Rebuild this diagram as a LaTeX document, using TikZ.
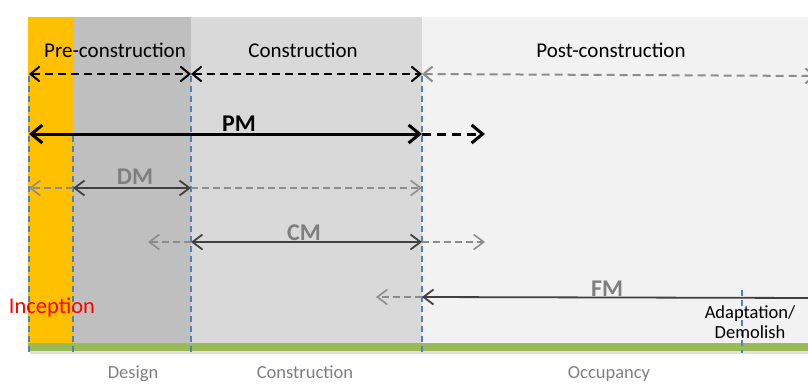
\documentclass[tikz,border=0pt]{standalone}
\usepackage{fontspec}
\setmainfont{Carlito}
\usetikzlibrary{arrows.meta}
\definecolor{inceptyellow}{HTML}{FFC000}
\definecolor{designgrey}{HTML}{BFBFBF}
\definecolor{buildgrey}{HTML}{D9D9D9}
\definecolor{usegrey}{HTML}{F2F2F2}
\definecolor{basegreen}{HTML}{9BBB59}
\definecolor{dividerblue}{HTML}{4F81BD}
\definecolor{labelgrey}{HTML}{7F7F7F}
\definecolor{arrowdark}{HTML}{404040}
\definecolor{arrowgrey}{HTML}{8C8C8C}
\begin{document}
\begin{tikzpicture}%
	[x=1pt, y=-1pt,
	phase/.style={font=\fontsize{21}{21}\selectfont, anchor=base},
	stage/.style={font=\fontsize{18.5}{18.5}\selectfont, text=labelgrey, anchor=base},
	role/.style={font=\bfseries\fontsize{24}{24}\selectfont, text=labelgrey, anchor=base},
	divider/.style={color=dividerblue, line width=1.4pt, dash pattern=on 6pt off 4pt},
	period/.style={black, line width=2pt, dash pattern=on 8pt off 5pt, {Straight Barb[length=9pt,width=15pt]}-{Straight Barb[length=9pt,width=15pt]}},
	later/.style={arrowgrey, line width=2pt, dash pattern=on 8pt off 5pt, {Straight Barb[length=9pt,width=15pt]}-{Straight Barb[length=9pt,width=15pt]}},
	lead/.style={black, line width=3pt, {Straight Barb[length=11pt,width=18pt]}-{Straight Barb[length=11pt,width=18pt]}},
	leadon/.style={black, line width=3pt, dash pattern=on 9pt off 6pt, -{Straight Barb[length=11pt,width=18pt]}},
	duty/.style={arrowdark, line width=1.8pt, {Straight Barb[length=10pt,width=15pt]}-{Straight Barb[length=10pt,width=15pt]}},
	dutyend/.style={arrowdark, line width=1.8pt, {Straight Barb[length=10pt,width=15pt]}-},
	ghost/.style={arrowgrey, line width=1.6pt, dash pattern=on 7pt off 4pt, -{Straight Barb[length=10pt,width=15pt]}}]
	%
	\useasboundingbox (0,0) rectangle (808,383);
	\clip (0,0) rectangle (808,383);
	%
	%% Phase backgrounds
	%%
	\fill[inceptyellow] (28,17) rectangle (73,343);
	\fill[designgrey] (73,17) rectangle (191,343);
	\fill[buildgrey] (191,17) rectangle (422,343);
	\fill[usegrey] (422,17) rectangle (812,343);
	\fill[black!12] (30,346) rectangle (812,354);
	\fill[basegreen] (28,343) rectangle (812,351);
	%%
	%% Coordinates of the arrows
	%%
	\coordinate (phase-a) at (29,74);
	\coordinate (phase-b) at (191,74);
	\coordinate (phase-c) at (422,74);
	\coordinate (phase-d) at (816,76);
	\coordinate (pm-a) at (29,134);
	\coordinate (pm-b) at (422,134);
	\coordinate (pm-c) at (485,134);
	\coordinate (dm-a) at (29,188);
	\coordinate (dm-b) at (73,188);
	\coordinate (dm-c) at (191,188);
	\coordinate (dm-d) at (422,188);
	\coordinate (cm-a) at (148,242);
	\coordinate (cm-b) at (191,242);
	\coordinate (cm-c) at (422,242);
	\coordinate (cm-d) at (485,242);
	\coordinate (fm-a) at (376,297);
	\coordinate (fm-b) at (422,297);
	\coordinate (fm-c) at (816,298);
	%%
	%% Dividers
	%%
	\draw[divider] (29,76) -- (29,353);
	\draw[divider] (73,136) -- (73,353);
	\draw[divider] (191,76) -- (191,353);
	\draw[divider] (422,76) -- (422,353);
	\draw[divider] (742,290) -- (742,353);
	%%
	%% Phase arrows
	%%
	\draw[period] (phase-a) -- (phase-b);
	\draw[period] (phase-b) -- (phase-c);
	\draw[later] (phase-c) -- (phase-d);
	%%
	%% Management arrows
	%%
	\draw[lead] (pm-a) -- (pm-b);
	\draw[leadon] (pm-b) -- (pm-c);
	\draw[ghost] (dm-b) -- (dm-a);
	\draw[duty] (dm-b) -- (dm-c);
	\draw[ghost] (dm-c) -- (dm-d);
	\draw[ghost] (cm-b) -- (cm-a);
	\draw[duty] (cm-b) -- (cm-c);
	\draw[ghost] (cm-c) -- (cm-d);
	\draw[ghost] (fm-b) -- (fm-a);
	\draw[dutyend] (fm-b) -- (fm-c);
	%%
	%% Labels
	%%
	\node[phase] (pre) at (115,57) {Pre-construction};
	\node[phase] (con) at (303,57) {Construction};
	\node[phase] (post) at (611,57) {Post-construction};
	\node[role, text=black] (pm) at (239,131) {PM};
	\node[role] (dm) at (135,184) {DM};
	\node[role] (cm) at (304,240) {CM};
	\node[role] (fm) at (607,296) {FM};
	\node[anchor=base, text=red, font=\fontsize{22.5}{22.5}\selectfont] (incept) at (52,313) {Inception};
	\node[align=center, font=\fontsize{18.5}{20}\selectfont] (adapt) at (750,322) {Adaptation/\\Demolish};
	\node[stage] (design) at (133,378) {Design};
	\node[stage] (build) at (305,378) {Construction};
	\node[stage] (occupy) at (609,378) {Occupancy};
	%%
\end{tikzpicture}
\end{document}
